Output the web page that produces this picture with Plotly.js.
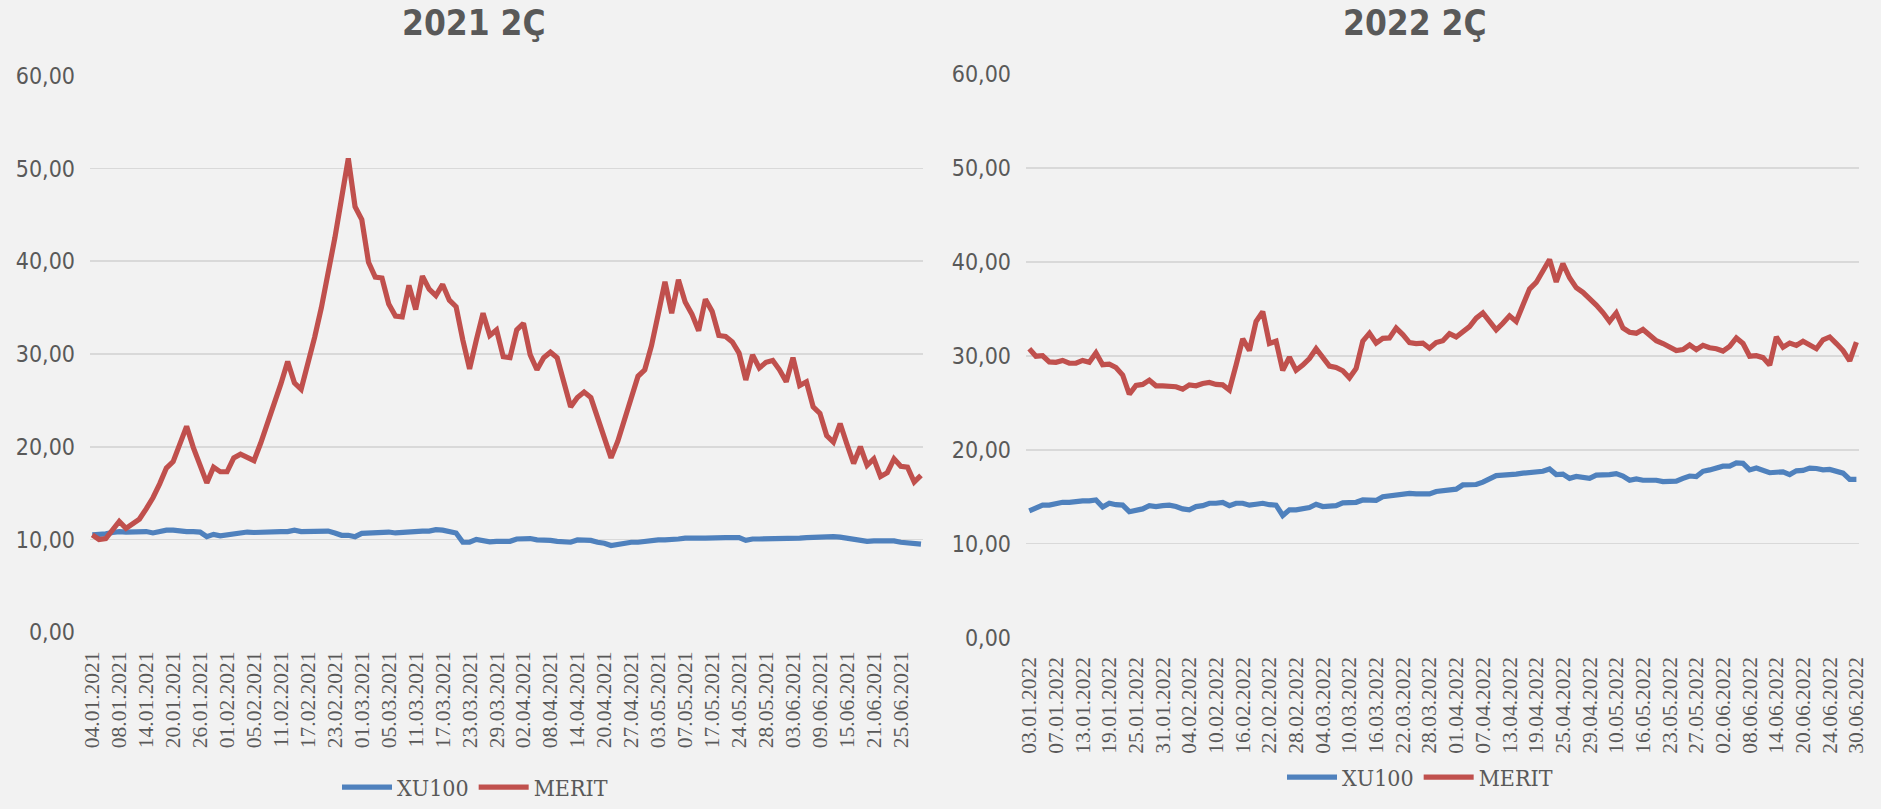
<!DOCTYPE html>
<html>
<head>
<meta charset="utf-8">
<script src="https://cdn.plot.ly/plotly-3.0.1.min.js"></script>
<style>
  html, body { margin: 0; padding: 0; background: #F2F2F2; }
  #chart { width: 1881px; height: 809px; }
</style>
</head>
<body>
<div id="chart"></div>
<script>
// ---- Data ----
var titles = ["2021 2Ç", "2022 2Ç"];
var seriesNames = ["XU100", "MERIT"];

// Trading-day calendar (Borsa Istanbul holidays falling on weekdays)
var holidays2021 = ["23.04.2021", "13.05.2021", "14.05.2021", "19.05.2021"];
var holidays2022 = ["02.05.2022", "03.05.2022", "04.05.2022", "19.05.2022"];

var ticks2021 = ["04.01.2021","08.01.2021","14.01.2021","20.01.2021","26.01.2021","01.02.2021","05.02.2021","11.02.2021","17.02.2021","23.02.2021","01.03.2021","05.03.2021","11.03.2021","17.03.2021","23.03.2021","29.03.2021","02.04.2021","08.04.2021","14.04.2021","20.04.2021","27.04.2021","03.05.2021","07.05.2021","17.05.2021","24.05.2021","28.05.2021","03.06.2021","09.06.2021","15.06.2021","21.06.2021","25.06.2021"];
var ticks2022 = ["03.01.2022","07.01.2022","13.01.2022","19.01.2022","25.01.2022","31.01.2022","04.02.2022","10.02.2022","16.02.2022","22.02.2022","28.02.2022","04.03.2022","10.03.2022","16.03.2022","22.03.2022","28.03.2022","01.04.2022","07.04.2022","13.04.2022","19.04.2022","25.04.2022","29.04.2022","10.05.2022","16.05.2022","23.05.2022","27.05.2022","02.06.2022","08.06.2022","14.06.2022","20.06.2022","24.06.2022","30.06.2022"];

var xu100_2021 = [10.5,10.5,10.6,10.75,10.85,10.8,10.85,10.9,10.85,10.7,
  10.9,11.0,11.0,10.9,10.85,10.85,10.8,10.3,10.55,10.4,
  10.5,10.65,10.8,10.8,10.75,10.8,10.85,10.85,10.85,10.85,
  11.0,10.85,10.85,10.9,10.95,10.9,10.7,10.45,10.45,10.3,
  10.65,10.7,10.7,10.75,10.8,10.7,10.75,10.9,10.9,10.9,
  10.9,11.05,11.0,10.85,10.7,9.7,9.7,10.0,9.85,9.75,
  9.8,9.8,9.8,10.05,10.1,10.1,9.95,9.95,9.9,9.8,
  9.7,9.7,9.95,9.95,9.9,9.7,9.6,9.35,9.45,9.65,
  9.7,9.7,9.8,9.85,9.95,9.95,9.95,10.05,10.15,10.2,
  10.15,10.15,10.2,10.2,10.2,10.2,10.2,9.9,10.05,10.05,
  10.05,10.05,10.1,10.1,10.1,10.15,10.2,10.25,10.25,10.3,
  10.3,10.25,10.15,10.05,9.9,9.8,9.85,9.85,9.85,9.85,
  9.7,9.65,9.6,9.5];
var merit_2021 = [10.5,10.0,10.1,11.1,11.95,11.2,11.7,12.2,13.3,14.5,
  16.0,17.7,18.4,20.4,22.2,19.9,17.9,16.1,17.8,17.3,
  17.3,18.8,19.2,18.8,18.5,20.4,22.5,24.5,26.8,29.2,
  26.9,26.2,28.8,31.8,35.0,38.6,42.5,46.8,51.1,45.9,
  44.5,39.9,38.3,38.2,35.4,34.1,34.0,37.4,34.8,38.4,
  37.0,36.3,37.5,35.8,35.1,31.5,28.4,31.5,34.4,32.0,
  32.6,29.7,29.6,32.6,33.3,29.9,28.3,29.6,30.2,29.6,
  26.9,24.3,25.3,25.9,25.3,23.1,20.8,18.8,20.6,22.8,
  25.0,27.6,28.3,30.9,34.3,37.8,34.4,38.0,35.6,34.3,
  32.5,35.9,34.6,32.0,31.9,31.3,30.1,27.2,29.9,28.5,
  29.1,29.3,28.3,27.0,29.6,26.6,27.0,24.3,23.6,21.2,
  20.5,22.5,20.3,18.2,20.0,18.0,18.7,16.8,17.2,18.7,
  17.9,17.8,16.2,16.9];

var xu100_2022 = [13.5,13.85,14.1,14.1,14.3,14.4,14.4,14.5,14.55,14.55,
  14.65,13.9,14.3,14.15,14.1,13.4,13.6,13.7,14.05,13.95,
  14.05,14.1,13.95,13.7,13.6,13.95,14.05,14.3,14.3,14.4,
  14.05,14.3,14.3,14.1,14.2,14.3,14.15,14.1,13.0,13.6,
  13.6,13.75,13.85,14.2,13.95,14.0,14.05,14.35,14.4,14.4,
  14.65,14.6,14.6,15.0,15.1,15.25,15.35,15.35,15.3,15.3,
  15.3,15.55,15.65,15.7,15.8,16.25,16.3,16.3,16.55,16.95,
  17.25,17.3,17.3,17.4,17.5,17.6,17.65,17.7,17.95,17.35,
  17.4,16.95,17.15,17.05,16.95,17.3,17.3,17.35,17.45,17.2,
  16.75,16.9,16.75,16.75,16.75,16.6,16.65,16.65,16.95,17.2,
  17.15,17.7,17.85,18.0,18.25,18.25,18.6,18.55,17.85,18.05,
  17.85,17.55,17.6,17.65,17.35,17.75,17.8,18.05,18.0,17.85,
  17.9,17.75,17.5,16.85,16.85];
var merit_2022 = [30.75,29.95,30.0,29.35,29.3,29.5,29.2,29.2,29.5,29.3,
  30.3,29.05,29.1,28.75,27.95,25.9,26.85,26.95,27.4,26.8,
  26.8,26.8,26.7,26.45,26.9,26.8,27.05,27.15,26.95,26.9,
  26.35,29.0,31.8,30.55,33.65,34.7,31.3,31.55,28.45,29.85,
  28.45,29.0,29.7,30.75,29.8,28.9,28.75,28.4,27.65,28.65,
  31.55,32.4,31.35,31.85,31.9,32.95,32.25,31.4,31.3,31.35,
  30.8,31.4,31.6,32.35,32.0,32.5,33.1,34.0,34.55,33.65,
  32.75,33.45,34.25,33.65,35.4,37.1,37.8,38.95,40.25,37.85,
  39.8,38.3,37.25,36.75,36.1,35.4,34.6,33.65,34.55,32.95,
  32.5,32.4,32.8,32.15,31.6,31.3,30.85,30.55,30.65,31.15,
  30.65,31.1,30.85,30.75,30.5,31.0,31.9,31.3,29.95,30.0,
  29.8,29.0,32.0,30.9,31.35,31.1,31.55,31.1,30.75,31.7,
  32.0,31.3,30.55,29.45,31.45];

// ---- Build trading-day categories ----
function pad(n) { return (n < 10 ? "0" : "") + n; }
function fmt(d) { return pad(d.getDate()) + "." + pad(d.getMonth() + 1) + "." + d.getFullYear(); }
function tradingDays(year, holidays) {
  var out = [];
  var d = new Date(year, 0, 1);
  var end = new Date(year, 5, 30);
  while (d <= end) {
    var wd = d.getDay();
    var s = fmt(d);
    if (wd !== 0 && wd !== 6 && holidays.indexOf(s) < 0 && s !== "01.01." + year) out.push(s);
    d.setDate(d.getDate() + 1);
  }
  return out;
}
var dates2021 = tradingDays(2021, holidays2021);
var dates2022 = tradingDays(2022, holidays2022);

// ---- Styling ----
var BLUE = "#4F81BD", RED = "#C0504D", TXT = "#595959", GRID = "#D9D9D9";
var W = 1881, H = 809;
var yTickFont = { family: "Liberation Sans Narrow, DejaVu Sans Condensed, Arial Narrow, sans-serif", size: 23, color: TXT };
var xTickFont = { family: "Liberation Serif, DejaVu Serif, serif", size: 21.5, color: TXT };
var legendFont = { family: "DejaVu Serif Condensed, Liberation Serif, serif", size: 23, color: TXT };
var titleFont = { family: "Liberation Sans Narrow, DejaVu Sans Condensed, Arial Narrow, sans-serif", size: 35, color: TXT, weight: 700 };

function lineTrace(x, y, name, color, xa, ya, lg) {
  return { type: "scatter", mode: "lines", x: x, y: y, name: name, xaxis: xa, yaxis: ya,
           legend: lg, line: { color: color, width: 5.2 }, hoverinfo: "skip" };
}

var traces = [
  lineTrace(dates2021, xu100_2021, seriesNames[0], BLUE, "x", "y", "legend"),
  lineTrace(dates2021, merit_2021, seriesNames[1], RED, "x", "y", "legend"),
  lineTrace(dates2022, xu100_2022, seriesNames[0], BLUE, "x2", "y2", "legend2"),
  lineTrace(dates2022, merit_2022, seriesNames[1], RED, "x2", "y2", "legend2")
];

function xAxis(dom, cats, ticks, anchor, lastPadR, firstPadL) {
  return { domain: dom, anchor: anchor, type: "category", categoryorder: "array", categoryarray: cats,
           range: [-firstPadL, cats.length - 1 + lastPadR],
           tickmode: "array", tickvals: ticks, ticktext: ticks, tickangle: -90,
           showgrid: false, zeroline: false, showline: false, ticks: "",
           ticklabelstandoff: 14, tickfont: xTickFont, fixedrange: true };
}
function yAxis(dom, anchor) {
  return { domain: dom, anchor: anchor, range: [0, 60], dtick: 10, tick0: 0, tickformat: ".2f",
           showgrid: true, gridcolor: GRID, gridwidth: 1.6, zeroline: false, showline: false,
           ticks: "", ticklabelstandoff: 14, tickfont: yTickFont, fixedrange: true };
}

var layout = {
  width: W, height: H, autosize: false,
  margin: { l: 0, r: 0, t: 0, b: 0, pad: 0 },
  paper_bgcolor: "#F2F2F2", plot_bgcolor: "#F2F2F2",
  separators: ",.",
  showlegend: true,
  xaxis: xAxis([90 / W, 923 / W], dates2021, ticks2021, "y", 0.30, 0.34),
  yaxis: yAxis([1 - 637.7 / H, 1 - 76.5 / H], "x"),
  xaxis2: xAxis([1026 / W, 1859 / W], dates2022, ticks2022, "y2", 0.39, 0.49),
  yaxis2: yAxis([1 - 643.2 / H, 1 - 74.5 / H], "x2"),
  legend: { orientation: "h", x: 475 / W, y: 1 - 794 / H, xanchor: "center", yanchor: "middle",
            font: legendFont, bgcolor: "rgba(0,0,0,0)", itemwidth: 50, traceorder: "normal" },
  legend2: { orientation: "h", x: 1420 / W, y: 1 - 784 / H, xanchor: "center", yanchor: "middle",
             font: legendFont, bgcolor: "rgba(0,0,0,0)", itemwidth: 50, traceorder: "normal" },
  annotations: [
    { text: "<b>" + titles[0] + "</b>", x: 474 / W, y: 1 - 23 / H, xref: "paper", yref: "paper",
      xanchor: "center", yanchor: "middle", showarrow: false, font: titleFont },
    { text: "<b>" + titles[1] + "</b>", x: 1415 / W, y: 1 - 23 / H, xref: "paper", yref: "paper",
      xanchor: "center", yanchor: "middle", showarrow: false, font: titleFont }
  ]
};

Plotly.newPlot("chart", traces, layout, { displayModeBar: false, staticPlot: true });
</script>
</body>
</html>
